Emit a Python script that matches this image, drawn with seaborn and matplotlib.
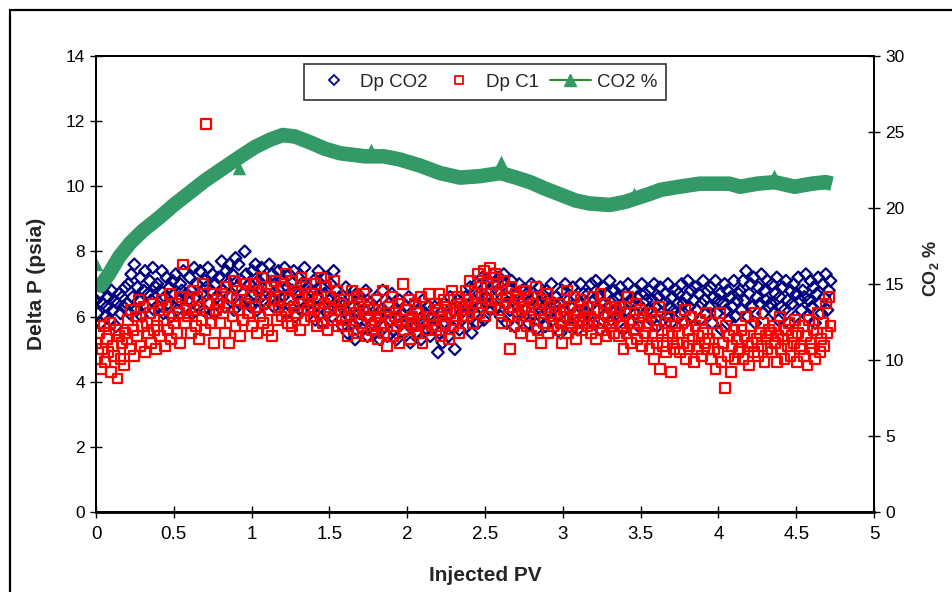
import numpy as np
import pandas as pd
import matplotlib
matplotlib.use("Agg")
import matplotlib.pyplot as plt
from matplotlib.lines import Line2D
from matplotlib.patches import Rectangle
import seaborn as sns

# ---------------------------------------------------------------- data
# Differential pressure across the core, in tenths of a psi,
# logged at evenly spaced injected volumes between 0 and 4.72 PV
dp_co2_tenths = [
    65, 61, 67, 58, 64, 69, 60, 63, 66, 59, 68, 62, 65, 57, 64, 67, 61, 66, 63, 69,
    64, 70, 61, 73, 66, 76, 62, 69, 65, 72, 60, 68, 74, 63, 67, 71, 65, 75, 62, 69,
    70, 63, 68, 74, 61, 66, 72, 64, 69, 60, 71, 67, 73, 62, 65, 70, 68, 74, 63, 67,
    65, 72, 68, 61, 75, 66, 70, 63, 74, 67, 62, 71, 69, 75, 64, 68, 73, 61, 70, 66,
    72, 65, 77, 68, 63, 74, 70, 76, 66, 73, 62, 78, 69, 76, 64, 71, 67, 80, 73, 65,
    70, 63, 74, 67, 76, 62, 71, 68, 75, 65, 72, 64, 69, 76, 66, 73, 63, 70, 67, 74,
    64, 71, 66, 75, 61, 69, 73, 63, 68, 74, 60, 67, 72, 65, 70, 62, 75, 66, 69, 64,
    68, 62, 71, 59, 66, 74, 63, 69, 58, 67, 72, 61, 65, 70, 60, 74, 64, 68, 62, 66,
    64, 57, 62, 69, 55, 60, 66, 58, 63, 53, 67, 59, 61, 65, 56, 62, 68, 54, 60, 64,
    58, 63, 55, 66, 60, 53, 62, 68, 57, 61, 54, 64, 59, 67, 56, 62, 53, 60, 65, 58,
    61, 55, 63, 58, 66, 52, 60, 57, 64, 55, 62, 59, 53, 65, 58, 61, 56, 63, 54, 60,
    57, 63, 59, 49, 55, 61, 52, 64, 58, 60, 54, 66, 57, 62, 50, 59, 65, 56, 61, 63,
    60, 66, 57, 63, 69, 55, 65, 61, 70, 58, 67, 63, 72, 59, 66, 64, 71, 62, 68, 73,
    70, 63, 68, 72, 60, 66, 73, 64, 58, 69, 62, 71, 65, 57, 67, 61, 70, 64, 68, 60,
    62, 67, 58, 65, 70, 61, 66, 56, 64, 69, 60, 67, 63, 57, 68, 62, 65, 70, 59, 64,
    66, 60, 64, 55, 68, 62, 70, 59, 65, 57, 63, 69, 61, 66, 56, 64, 70, 60, 67, 62,
    61, 67, 63, 70, 58, 65, 71, 62, 66, 56, 64, 69, 60, 67, 63, 71, 59, 65, 68, 62,
    66, 60, 69, 63, 56, 67, 62, 70, 64, 58, 65, 68, 61, 66, 57, 63, 70, 62, 67, 65,
    62, 68, 59, 65, 70, 63, 57, 66, 69, 61, 64, 67, 60, 70, 63, 58, 66, 62, 68, 64,
    67, 61, 70, 64, 58, 66, 71, 63, 68, 60, 65, 69, 62, 67, 59, 64, 71, 65, 61, 68,
    63, 69, 58, 66, 71, 61, 65, 67, 56, 64, 70, 62, 68, 59, 66, 63, 71, 60, 65, 67,
    68, 62, 71, 65, 74, 60, 67, 70, 63, 72, 58, 66, 69, 64, 73, 61, 68, 65, 71, 63,
    64, 70, 61, 67, 72, 59, 66, 63, 69, 62, 71, 65, 58, 68, 64, 70, 60, 67, 72, 65,
    62, 68, 66, 73, 60, 65, 71, 63, 69, 58, 67, 72, 64, 61, 70, 66, 73, 62, 68, 71,
]
dp_c1_tenths = [
    52, 47, 55, 44, 50, 57, 46, 53, 49, 58, 43, 51, 48, 56, 41, 54, 47, 52, 45, 55,
    53, 59, 50, 62, 56, 48, 60, 54, 65, 51, 57, 63, 49, 58, 55, 61, 52, 64, 56, 50,
    57, 62, 54, 65, 59, 51, 63, 56, 67, 53, 60, 58, 64, 55, 61, 52, 66, 76, 58, 62,
    60, 65, 55, 68, 62, 57, 66, 53, 63, 59, 70, 56, 119, 64, 61, 58, 67, 52, 62, 65,
    64, 58, 67, 61, 55, 69, 63, 52, 66, 60, 71, 57, 65, 62, 54, 68, 59, 64, 70, 61,
    61, 66, 57, 70, 63, 55, 68, 60, 72, 58, 64, 67, 56, 62, 69, 54, 65, 71, 59, 63,
    66, 60, 69, 62, 73, 58, 65, 71, 57, 63, 68, 61, 67, 56, 72, 64, 59, 70, 62, 66,
    60, 67, 62, 70, 57, 65, 61, 72, 58, 64, 69, 56, 63, 66, 59, 71, 62, 68, 57, 64,
    62, 57, 65, 59, 54, 63, 60, 68, 56, 61, 66, 55, 64, 58, 62, 67, 54, 60, 63, 57,
    56, 62, 58, 65, 53, 60, 57, 68, 55, 61, 51, 63, 59, 66, 54, 60, 57, 64, 52, 59,
    70, 56, 62, 58, 65, 53, 60, 57, 64, 55, 61, 59, 66, 52, 58, 63, 56, 67, 60, 57,
    59, 64, 56, 62, 67, 54, 60, 65, 58, 63, 53, 61, 68, 57, 62, 59, 66, 55, 64, 60,
    62, 68, 60, 65, 71, 63, 58, 67, 64, 73, 61, 69, 66, 74, 60, 70, 65, 75, 63, 72,
    73, 67, 70, 62, 68, 58, 71, 64, 66, 60, 50, 69, 63, 57, 67, 61, 65, 55, 62, 68,
    63, 57, 66, 60, 54, 64, 59, 69, 56, 62, 52, 65, 58, 61, 67, 55, 63, 60, 57, 64,
    61, 56, 64, 58, 52, 62, 60, 68, 55, 63, 57, 59, 66, 53, 61, 58, 65, 56, 62, 60,
    57, 63, 60, 55, 66, 59, 53, 62, 58, 67, 56, 61, 64, 54, 60, 57, 63, 59, 55, 62,
    60, 54, 63, 57, 50, 61, 55, 66, 58, 52, 59, 56, 64, 53, 58, 62, 51, 60, 55, 57,
    57, 50, 61, 54, 47, 59, 52, 63, 44, 56, 51, 58, 49, 55, 60, 43, 54, 50, 57, 52,
    55, 49, 58, 52, 62, 47, 56, 51, 60, 53, 46, 57, 50, 54, 59, 48, 55, 52, 61, 50,
    53, 47, 58, 50, 44, 55, 49, 61, 46, 52, 38, 57, 48, 54, 43, 51, 56, 47, 53, 49,
    50, 56, 47, 54, 60, 51, 45, 57, 52, 49, 61, 53, 48, 55, 51, 58, 46, 54, 50, 56,
    55, 49, 57, 52, 46, 54, 60, 50, 53, 47, 56, 51, 58, 48, 54, 52, 59, 46, 55, 50,
    51, 57, 48, 54, 45, 59, 52, 50, 56, 47, 55, 61, 49, 53, 58, 51, 64, 55, 66, 57,
]
pv_start, pv_end = 0.0, 4.72

# CO2 content of the effluent (%)
co2_pv = [0.00, 0.03, 0.08, 0.15, 0.22, 0.30, 0.41, 0.50, 0.60, 0.70, 0.80, 0.93,
          1.02, 1.12, 1.20, 1.28, 1.38, 1.47, 1.57, 1.73, 1.85, 1.95, 2.08, 2.21,
          2.34, 2.47, 2.60, 2.70, 2.79, 2.88, 2.98, 3.08, 3.17, 3.30, 3.40, 3.46,
          3.55, 3.63, 3.75, 3.88, 4.07, 4.14, 4.25, 4.36, 4.49, 4.60, 4.69, 4.73]
co2_pct = [15.0, 14.9, 15.6, 16.8, 17.7, 18.5, 19.4, 20.2, 21.0, 21.8, 22.5, 23.4,
           24.0, 24.5, 24.8, 24.7, 24.3, 23.9, 23.6, 23.4, 23.4, 23.2, 22.8, 22.3,
           22.0, 22.1, 22.3, 22.0, 21.7, 21.3, 20.9, 20.5, 20.3, 20.2, 20.4, 20.6,
           20.9, 21.2, 21.4, 21.6, 21.6, 21.4, 21.6, 21.7, 21.4, 21.6, 21.7, 21.6]
# isolated CO2 readings standing off the main trend
co2_spike_pv = [0.00, 0.92, 1.77, 2.60, 3.46, 4.36]
co2_spike_pct = [16.3, 22.6, 23.8, 23.0, 20.9, 22.1]

x_ticks = [0, 0.5, 1, 1.5, 2, 2.5, 3, 3.5, 4, 4.5, 5]
x_tick_labels = ["0", "0.5", "1", "1.5", "2", "2.5", "3", "3.5", "4", "4.5", "5"]
left_ticks = [0, 2, 4, 6, 8, 10, 12, 14]
right_ticks = [0, 5, 10, 15, 20, 25, 30]

# ---------------------------------------------------------------- style
sns.set_theme(style="white")
plt.rcParams["font.family"] = ["Liberation Sans", "DejaVu Sans"]
plt.rcParams["mathtext.fontset"] = "custom"
plt.rcParams["mathtext.rm"] = "Liberation Sans"
plt.rcParams["mathtext.bf"] = "Liberation Sans:bold"

NAVY = "#000080"
RED = "#FF0000"
GREEN = "#339966"

fig = plt.figure(figsize=(9.52, 5.92), dpi=100)
fig.patch.set_facecolor("white")
ax = fig.add_axes([96 / 952, 1 - 512 / 592, 778 / 952, 456 / 592])
ax2 = ax.twinx()

dp_df = pd.DataFrame({
    "pv": np.linspace(pv_start, pv_end, len(dp_co2_tenths)),
    "dp_co2": np.array(dp_co2_tenths) / 10.0,
    "dp_c1": np.array(dp_c1_tenths) / 10.0,
})
co2_df = pd.DataFrame({"pv": co2_pv, "pct": co2_pct})
spike_df = pd.DataFrame({"pv": co2_spike_pv, "pct": co2_spike_pct})

sns.scatterplot(data=dp_df, x="pv", y="dp_co2", ax=ax, marker="D", s=36,
                facecolor="none", edgecolor=NAVY, linewidth=1.6, zorder=3)
sns.scatterplot(data=dp_df, x="pv", y="dp_c1", ax=ax, marker="s", s=50,
                facecolor="none", edgecolor=RED, linewidth=1.6, zorder=4)

sns.lineplot(data=co2_df, x="pv", y="pct", ax=ax2, color=GREEN, lw=10.5,
             sort=False, solid_capstyle="butt", solid_joinstyle="round")
sns.scatterplot(data=spike_df, x="pv", y="pct", ax=ax2, marker="^", s=95,
                color=GREEN, edgecolor=GREEN, linewidth=0)

# ---------------------------------------------------------------- axes
ax.set_xlim(0, 5)
ax.set_ylim(0, 14)
ax2.set_ylim(0, 30)
ax.set_xticks(x_ticks)
ax.set_xticklabels(x_tick_labels)
ax.set_yticks(left_ticks)
ax2.set_yticks(right_ticks)

for a in (ax, ax2):
    for sp in a.spines.values():
        sp.set_visible(True)
        sp.set_color("black")
        sp.set_linewidth(1.3)
    a.tick_params(axis="both", which="both", direction="inout", length=8,
                  width=1, color="black", labelsize=12.5, labelcolor="black", pad=4)
    a.grid(False)
ax.spines["bottom"].set_linewidth(2)
ax.tick_params(axis="y", left=True, right=False)
ax.tick_params(axis="x", bottom=True, labelsize=13.5, pad=6)
ax2.tick_params(axis="y", right=True, left=False)

ax.set_xlabel("Injected PV", fontsize=15, fontweight="bold")
ax.set_ylabel("Delta P (psia)", fontsize=15, fontweight="bold")
ax2.set_ylabel(r"CO$_\mathbf{2}$ %", fontsize=13, fontweight="bold")
ax.xaxis.set_label_coords(0.5, -0.118)
ax.yaxis.set_label_coords(-0.064, 0.5)
ax2.yaxis.set_label_coords(1.06, 0.535)

handles = [
    Line2D([], [], ls="none", marker="D", ms=5, mfc="none", mec=NAVY, mew=1.3),
    Line2D([], [], ls="none", marker="s", ms=6, mfc="none", mec=RED, mew=1.3),
    Line2D([], [], color="#2E8B2E", lw=1.5, marker="^", ms=9, mfc=GREEN, mec=GREEN),
]
leg = ax2.legend(handles, ["Dp CO2", "Dp C1", "CO2 %"], loc="upper center",
                 bbox_to_anchor=(0.5, 0.982), borderaxespad=0, ncol=3,
                 fontsize=13.5, frameon=True, fancybox=False, edgecolor="black",
                 handlelength=2.2, handletextpad=0.3, columnspacing=0.6,
                 borderpad=0.5)
leg.get_frame().set_linewidth(1.2)
leg.set_zorder(10)

# outer chart frame
fig.patches.append(Rectangle((10 / 952, -0.1), 1.2, (1 - 10 / 592) + 0.1,
                             transform=fig.transFigure, fill=False,
                             edgecolor="black", linewidth=1.6))

fig.savefig("out.png", dpi=100, facecolor="white")
